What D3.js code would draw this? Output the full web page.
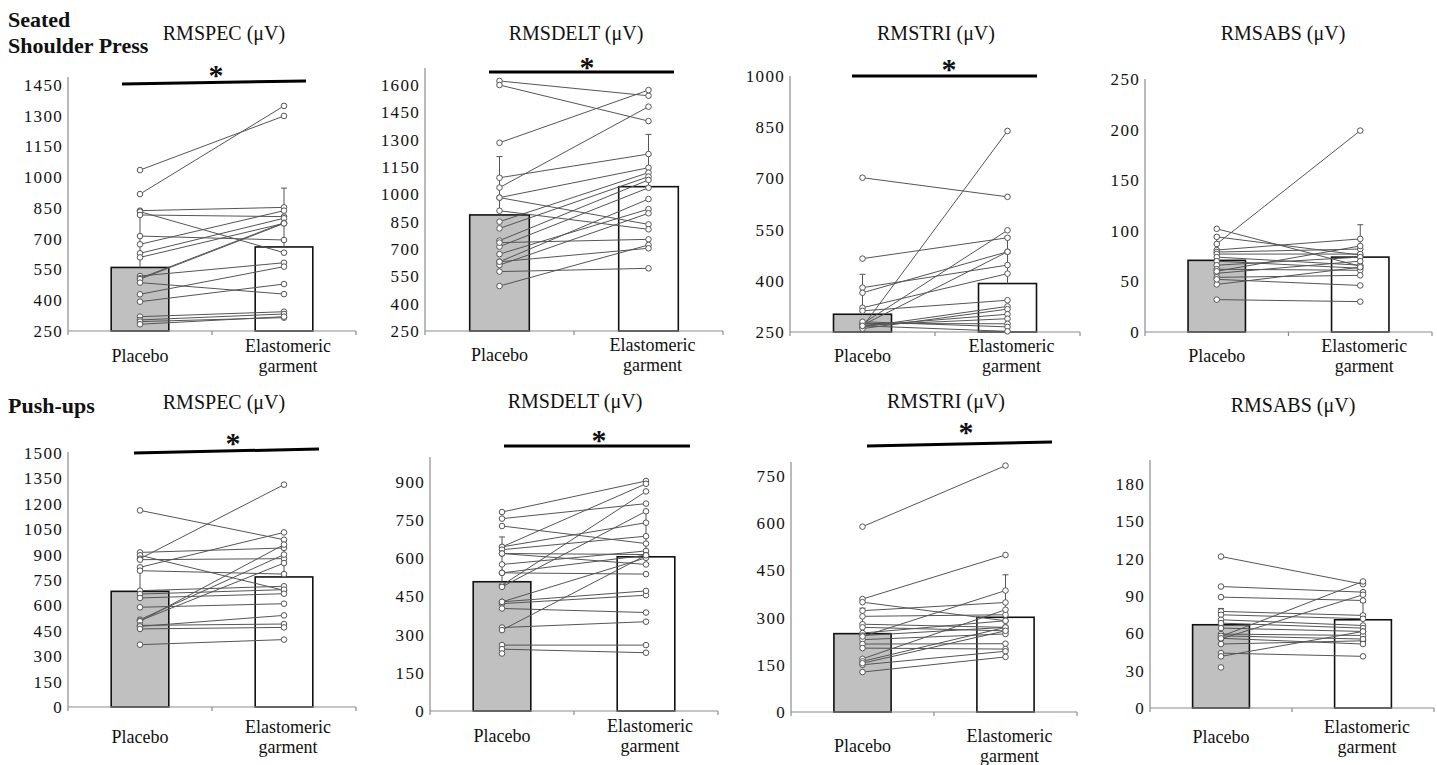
<!DOCTYPE html>
<html>
<head>
<meta charset="utf-8">
<style>
    body { margin: 0; background: #fff; }
    svg { display: block; font-family: 'Liberation Serif', 'Times New Roman', serif; }
    .y .tick text { font-family: 'Liberation Serif', 'Times New Roman', serif; font-size: 17px; fill: #111; letter-spacing: 1.3px; }
    .y .tick line { display: none; }
    .y .domain { display: none; }
    .axisline { stroke: #8c8c8c; stroke-width: 1.2; }
    .title { font-size: 20px; fill: #111; text-anchor: middle; }
    .cat { font-size: 18px; fill: #111; text-anchor: middle; }
    .rowlabel { font-size: 22px; font-weight: bold; fill: #111; }
    .star { font-size: 30px; font-weight: bold; fill: #111; text-anchor: middle; }
</style>
</head>
<body>
<svg width="1437" height="765"></svg>

<script src="https://cdn.jsdelivr.net/npm/d3@7/dist/d3.min.js"></script>
<script>
    // ---- data ----
    let categories = ["Placebo", "Elastomeric garment"];
    let exercises = ["Seated Shoulder Press", "Push-ups"];
    let muscles = ["RMSPEC (μV)", "RMSDELT (μV)", "RMSTRI (μV)", "RMSABS (μV)"];

    // y axis domains and tick steps, one per panel (row 1 then row 2)
    let yDomains = [[250, 1450], [250, 1600], [250, 1000], [0, 250], [0, 1500], [0, 900], [0, 750], [0, 180]];
    let yStep = [150, 150, 150, 50, 150, 150, 150, 30];
    let significant = [true, true, true, false, true, true, true, false];

    // group means [placebo, garment] and top of the SD bar
    let means = [[560, 660], [887, 1042], [302, 392], [70.8, 74], [683, 768], [508, 606], [249, 301], [66.9, 70.9]];
    let sdTop = [[830, 947], [1207, 1329], [419, 530], [95, 106], [820, 980], [684, 780], [330, 436], [80, 85]];

    // individual subjects, placebo vs garment
    let sspPecPlacebo = [1035, 918, 837, 832, 816, 713, 673, 629, 609, 518, 507, 503, 486, 429, 393, 320, 304, 296, 283];
    let sspPecGarment = [1299, 1348, 853, 632, 808, 694, 837, 800, 775, 583, 778, 775, 430, 564, 479, 344, 333, 315, 320];

    let sspDeltPlacebo = [1622, 1600, 1283, 1091, 1037, 982, 982, 910, 850, 813, 746, 713, 672, 630, 612, 576, 735, 497, 630];
    let sspDeltGarment = [1541, 1402, 1572, 1221, 1481, 1146, 835, 808, 1119, 1097, 1079, 1036, 919, 974, 896, 594, 753, 722, 704];

    let sspTriPlacebo = [702, 465, 380, 365, 321, 312, 265, 274, 270, 265, 260, 268, 270, 275, 280, 268];
    let sspTriGarment = [646, 526, 446, 485, 421, 343, 839, 548, 485, 325, 317, 302, 289, 274, 265, 252];

    let sspAbsPlacebo = [87, 102, 94, 81, 79, 77, 74, 70, 66, 62, 58, 54, 47, 32, 60, 52];
    let sspAbsGarment = [199, 65, 76, 92, 82, 77, 66, 63, 74, 61, 70, 56, 64, 30, 85, 46];

    let puPecPlacebo = [1161, 913, 896, 876, 870, 825, 805, 687, 667, 644, 589, 516, 510, 506, 482, 476, 461, 368];
    let puPecGarment = [988, 939, 689, 1313, 876, 1031, 785, 713, 693, 669, 610, 900, 850, 959, 490, 541, 470, 398];

    let puDeltPlacebo = [782, 756, 727, 645, 645, 634, 619, 576, 543, 494, 488, 429, 422, 403, 328, 318, 259, 243, 226, 619, 543, 429];
    let puDeltGarment = [904, 815, 658, 893, 740, 687, 615, 629, 612, 863, 785, 602, 455, 387, 351, 612, 259, 229, null, 576, 538, 472];

    let puTriPlacebo = [589, 359, 349, 322, 304, 279, 269, 251, 243, 230, 216, 203, 169, 161, 150, 127, 155, 240];
    let puTriGarment = [783, 499, 290, 348, 309, 269, 258, 290, 269, 248, 217, 200, 325, 269, 193, 175, 258, 386];

    let puAbsPlacebo = [121.7, 97.6, 89.1, 77.6, 74.9, 70.9, 68.2, 64.2, 59.4, 57.5, 55.6, 51.4, 44.1, 41.5, 32.6, 58, 56];
    let puAbsGarment = [99.5, 93.1, 86.4, 74.4, 71.7, 66.3, 64.2, 61.5, 58.3, 101.7, 91, 54, 41.5, 61.5, null, 55.4, 51.4];

    let placeboSets = [sspPecPlacebo, sspDeltPlacebo, sspTriPlacebo, sspAbsPlacebo, puPecPlacebo, puDeltPlacebo, puTriPlacebo, puAbsPlacebo];
    let garmentSets = [sspPecGarment, sspDeltGarment, sspTriGarment, sspAbsGarment, puPecGarment, puDeltGarment, puTriGarment, puAbsGarment];

    // ---- layout (pixels) ----
    // left = y axis, right = end of x axis, bottom/top = pixel of domain min/max, axisTop = end of y axis line
    let layout = [
        { left: 68, right: 356, bottom: 331, top: 85, axisTop: 77, titleX: 224, titleY: 40, catY: 362, star: { x1: 122, y1: 84, x2: 306, y2: 81, cx: 216, cy: 70 } },
        { left: 425, right: 723, bottom: 331, top: 85, axisTop: 68, titleX: 576, titleY: 40, catY: 361, star: { x1: 489, y1: 72, x2: 674, y2: 72, cx: 587, cy: 62 } },
        { left: 790, right: 1080, bottom: 332, top: 76, axisTop: 76, titleX: 936, titleY: 40, catY: 362, star: { x1: 852, y1: 76, x2: 1037, y2: 76, cx: 949, cy: 64 } },
        { left: 1145, right: 1432, bottom: 332, top: 79, axisTop: 79, titleX: 1283, titleY: 40, catY: 362 },
        { left: 68, right: 356, bottom: 707, top: 453, axisTop: 452, titleX: 224, titleY: 409, catY: 743, star: { x1: 134, y1: 453, x2: 319, y2: 449, cx: 233, cy: 438 } },
        { left: 430, right: 718, bottom: 711, top: 482, axisTop: 457, titleX: 575, titleY: 408, catY: 742, star: { x1: 504, y1: 446, x2: 690, y2: 446, cx: 599, cy: 435 } },
        { left: 791, right: 1077, bottom: 712, top: 476, axisTop: 462, titleX: 946, titleY: 408, catY: 752, star: { x1: 867, y1: 446, x2: 1052, y2: 442, cx: 966, cy: 427 } },
        { left: 1150, right: 1434, bottom: 708, top: 484, axisTop: 460, titleX: 1293, titleY: 412, catY: 743 }
    ];

    let svg = d3.select("svg");

    // row labels
    svg.append("text").attr("class", "rowlabel").attr("x", 8).attr("y", 27).text("Seated");
    svg.append("text").attr("class", "rowlabel").attr("x", 8).attr("y", 53).text("Shoulder Press");
    svg.append("text").attr("class", "rowlabel").attr("x", 8).attr("y", 413).text(exercises[1]);

    layout.forEach((L, i) => {
        let g = svg.append("g");

        let x = d3.scaleBand()
            .domain(categories)
            .range([L.left, L.right]);

        let y = d3.scaleLinear()
            .domain(yDomains[i])
            .range([L.bottom, L.top]);

        let barW = x.bandwidth() * 0.4;
        let cx = c => x(c) + x.bandwidth() / 2;

        // title
        g.append("text").attr("class", "title")
            .attr("x", L.titleX).attr("y", L.titleY)
            .text(muscles[i % 4]);

        // bars
        g.selectAll("rect.bar")
            .data(categories)
            .join("rect")
            .attr("class", "bar")
            .attr("x", c => cx(c) - barW / 2)
            .attr("width", barW)
            .attr("y", (c, j) => y(means[i][j]))
            .attr("height", (c, j) => L.bottom - y(means[i][j]))
            .attr("fill", (c, j) => j == 0 ? "#c0c0c0" : "#fff")
            .attr("stroke", "#111")
            .attr("stroke-width", 1.6);

        // SD bars (upwards only)
        categories.forEach((c, j) => {
            g.append("line")
                .attr("x1", cx(c)).attr("x2", cx(c))
                .attr("y1", y(means[i][j])).attr("y2", y(sdTop[i][j]))
                .attr("stroke", "#555").attr("stroke-width", 1);
            g.append("line")
                .attr("x1", cx(c) - 3).attr("x2", cx(c) + 3)
                .attr("y1", y(sdTop[i][j])).attr("y2", y(sdTop[i][j]))
                .attr("stroke", "#555").attr("stroke-width", 1);
        });

        // axes
        g.append("g")
            .attr("class", "y axis")
            .attr("transform", `translate(${L.left},0)`)
            .call(d3.axisLeft(y)
                .tickValues(d3.range(yDomains[i][0], yDomains[i][1] + 1, yStep[i]))
                .tickFormat(d3.format("d"))
                .tickSize(0)
                .tickPadding(5))
            .attr("font-family", null)
            .attr("font-size", null);

        g.append("line").attr("class", "axisline")
            .attr("x1", L.left).attr("x2", L.left)
            .attr("y1", L.bottom).attr("y2", L.axisTop);
        g.append("line").attr("class", "axisline")
            .attr("x1", L.left).attr("x2", L.right)
            .attr("y1", L.bottom).attr("y2", L.bottom);
        [L.left, x(categories[1]), L.right].forEach(tx => {
            g.append("line").attr("class", "axisline")
                .attr("x1", tx).attr("x2", tx)
                .attr("y1", L.bottom).attr("y2", L.bottom + 4);
        });

        // category labels
        g.append("text").attr("class", "cat")
            .attr("x", cx(categories[0])).attr("y", L.catY)
            .text(categories[0]);
        g.append("text").attr("class", "cat")
            .attr("x", cx(categories[1]) + 4).attr("y", L.catY - 10)
            .text("Elastomeric");
        g.append("text").attr("class", "cat")
            .attr("x", cx(categories[1]) + 4).attr("y", L.catY + 10)
            .text("garment");

        // paired subject lines and points
        let pairs = placeboSets[i].map((v, k) => ({ a: v, b: garmentSets[i][k] }));

        g.selectAll("line.pair")
            .data(pairs.filter(d => d.b != null))
            .join("line")
            .attr("class", "pair")
            .attr("x1", cx(categories[0])).attr("x2", cx(categories[1]))
            .attr("y1", d => y(d.a)).attr("y2", d => y(d.b))
            .attr("stroke", "#555").attr("stroke-width", 1);

        let pts = [];
        pairs.forEach(d => {
            pts.push({ c: categories[0], v: d.a });
            if (d.b != null) pts.push({ c: categories[1], v: d.b });
        });

        g.selectAll("circle")
            .data(pts)
            .join("circle")
            .attr("cx", d => cx(d.c))
            .attr("cy", d => y(d.v))
            .attr("r", 2.8)
            .attr("fill", "#fff")
            .attr("stroke", "#555")
            .attr("stroke-width", 1);

        // significance marker
        if (significant[i]) {
            g.append("line")
                .attr("x1", L.star.x1).attr("y1", L.star.y1)
                .attr("x2", L.star.x2).attr("y2", L.star.y2)
                .attr("stroke", "#000").attr("stroke-width", 3);
            g.append("text").attr("class", "star")
                .attr("x", L.star.cx).attr("y", L.star.cy + 15)
                .text("*");
        }
    });
</script>
</body>
</html>
